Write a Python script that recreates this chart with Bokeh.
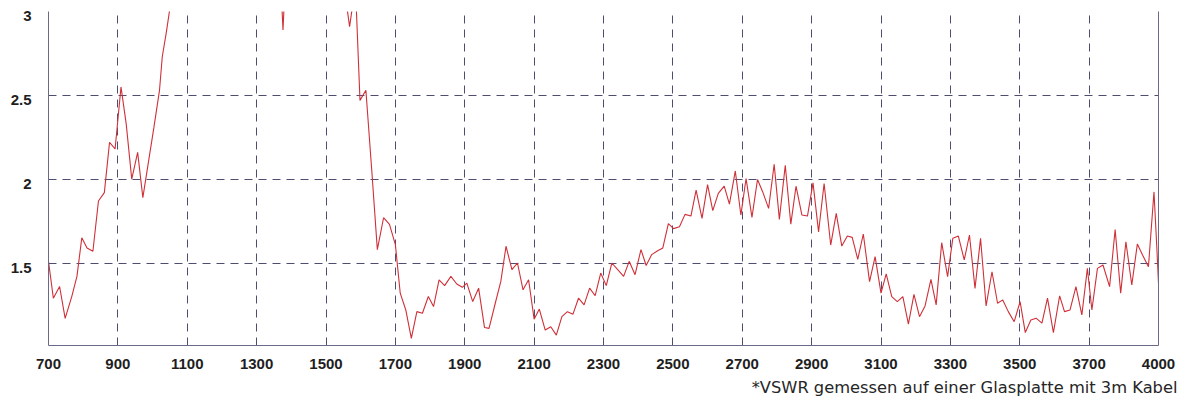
from bokeh.plotting import figure
from bokeh.models import FixedTicker, LinearAxis, Title, Range1d
from bokeh.embed import file_html
from bokeh.resources import INLINE

# ---- data ----
freq = [700, 714, 732, 748, 767, 782, 796, 811, 828, 844, 861, 876, 892, 909, 924,
        940, 957, 972, 988, 1004, 1020, 1028, 1040, 1050, 1066, 1150, 1250, 1344,
        1360, 1376, 1392, 1450, 1530, 1552, 1568, 1577, 1587, 1598, 1615, 1632, 1648,
        1666, 1683, 1700, 1714, 1730, 1746, 1762, 1778, 1795, 1810, 1826, 1842, 1860,
        1877, 1893, 1906, 1923, 1940, 1957, 1970, 1988, 2004, 2019, 2036, 2052, 2068,
        2084, 2100, 2115, 2132, 2148, 2164, 2180, 2196, 2212, 2228, 2244, 2260, 2276,
        2292, 2308, 2324, 2341, 2358, 2374, 2391, 2408, 2423, 2439, 2456, 2471, 2487,
        2502, 2519, 2535, 2552, 2567, 2584, 2600, 2615, 2631, 2648, 2663, 2680, 2696,
        2711, 2728, 2744, 2759, 2776, 2792, 2807, 2824, 2840, 2855, 2872, 2888, 2904,
        2920, 2936, 2955, 2971, 2987, 3003, 3017, 3033, 3049, 3067, 3083, 3100, 3115,
        3131, 3147, 3163, 3179, 3195, 3211, 3227, 3244, 3259, 3275, 3292, 3307, 3323,
        3340, 3355, 3371, 3387, 3403, 3420, 3436, 3451, 3467, 3484, 3501, 3516, 3532,
        3547, 3564, 3580, 3597, 3615, 3629, 3645, 3662, 3679, 3695, 3708, 3724, 3740,
        3759, 3775, 3791, 3806, 3823, 3839, 3854, 3871, 3887, 3895, 3900]

vswr = [1.51, 1.29, 1.36, 1.17, 1.30, 1.42, 1.65, 1.59, 1.57, 1.87, 1.92, 2.22, 2.18, 2.55, 2.33,
        2.00, 2.16, 1.89, 2.10, 2.31, 2.53, 2.73, 2.88, 3.02, 3.30, 3.80, 4.00, 3.90,
        3.60, 2.89, 3.60, 3.90, 3.60, 3.15, 2.91, 3.04, 3.04, 2.47, 2.53, 2.05, 1.58,
        1.77, 1.73, 1.61, 1.32, 1.22, 1.05, 1.21, 1.20, 1.30, 1.24, 1.40, 1.365, 1.42,
        1.375, 1.355, 1.38, 1.27, 1.35, 1.115, 1.11, 1.26, 1.39, 1.60, 1.46, 1.50, 1.34,
        1.40, 1.165, 1.225, 1.10, 1.12, 1.07, 1.18, 1.21, 1.195, 1.29, 1.25, 1.35, 1.305,
        1.44, 1.365, 1.50, 1.46, 1.42, 1.51, 1.43, 1.58, 1.485, 1.55, 1.573, 1.59, 1.735,
        1.705, 1.716, 1.79, 1.78, 1.935, 1.766, 1.968, 1.812, 1.915, 1.958, 1.851, 2.049, 1.786,
        2.004, 1.772, 1.998, 1.924, 1.826, 2.089, 1.76, 2.083, 1.732, 1.958, 1.786, 1.78, 1.978,
        1.686, 1.974, 1.607, 1.796, 1.601, 1.661, 1.653, 1.522, 1.673, 1.389, 1.538, 1.32, 1.435,
        1.30, 1.27, 1.30, 1.135, 1.313, 1.18, 1.244, 1.403, 1.25, 1.621, 1.419, 1.647, 1.661,
        1.518, 1.667, 1.349, 1.647, 1.244, 1.448, 1.26, 1.28, 1.21, 1.15, 1.27, 1.085, 1.16,
        1.171, 1.141, 1.29, 1.085, 1.304, 1.21, 1.22, 1.359, 1.19, 1.468, 1.22, 1.468, 1.488,
        1.359, 1.70, 1.32, 1.627, 1.369, 1.613, 1.548, 1.478, 1.924, 1.60, 1.38]

x_ticks = [700, 900, 1100, 1300, 1500, 1700, 1900, 2100, 2300, 2500, 2700, 2900,
           3100, 3300, 3500, 3700, 3900]
x_tick_labels = ["700", "900", "1100", "1300", "1500", "1700", "1900", "2100", "2300",
                 "2500", "2700", "2900", "3100", "3300", "3500", "3700", "4000"]
y_ticks = [1.5, 2, 2.5, 3]
y_tick_labels = ["1.5", "2", "2.5", "3"]

footnote = "*VSWR gemessen auf einer Glasplatte mit 3m Kabel"

X_MIN, X_MAX = 700, 3900
Y_MIN, Y_MAX = 1.008, 3.0
# the reference prints each y label a little below its grid line
Y_LABEL_DROP = 0.027

# ---- figure ----
p = figure(width=1184, height=403,
           x_range=Range1d(X_MIN, X_MAX), y_range=Range1d(Y_MIN, Y_MAX),
           output_backend="svg", toolbar_location=None,
           min_border_left=48, min_border_right=26, min_border_top=11, min_border_bottom=58)
p.outline_line_color = None
p.background_fill_color = "white"
p.border_fill_color = "white"

p.line(freq, vswr, line_color="#cf3038", line_width=1.1)

grid_color = "#4d4d70"
for g in (p.xgrid, p.ygrid):
    g.grid_line_color = grid_color
    g.grid_line_dash = "8 6"
    g.grid_line_width = 1
p.ygrid.ticker = FixedTicker(ticks=y_ticks)

axis_color = "#6a6a88"
label_font = "Liberation Sans"
label_color = "#1e1e1e"

p.xaxis.ticker = FixedTicker(ticks=x_ticks)
p.xaxis.major_label_overrides = dict(zip(x_ticks, x_tick_labels))

y_label_pos = [round(v - Y_LABEL_DROP, 3) for v in y_ticks]
p.yaxis.ticker = FixedTicker(ticks=y_label_pos)
p.yaxis.major_label_overrides = dict(zip(y_label_pos, y_tick_labels))

for ax in (p.xaxis[0], p.yaxis[0]):
    ax.axis_line_color = axis_color
    ax.axis_line_width = 1
    ax.major_tick_line_color = None
    ax.minor_tick_line_color = None
    ax.major_tick_out = 0
    ax.major_tick_in = 0
    ax.major_label_text_font = label_font
    ax.major_label_text_font_size = "15px"
    ax.major_label_text_font_style = "bold"
    ax.major_label_text_color = label_color

p.xaxis.major_label_standoff = 13
p.yaxis.major_label_standoff = 17

right_axis = LinearAxis(ticker=FixedTicker(ticks=[]), axis_line_color=axis_color,
                        major_tick_line_color=None, minor_tick_line_color=None,
                        major_label_text_font_size="0px", major_label_standoff=0,
                        major_tick_out=0, major_tick_in=0)
p.add_layout(right_axis, "right")

note = Title(text=footnote, align="right", text_font="DejaVu Sans",
             text_font_size="16.3px", text_font_style="normal", text_color="#262626",
             standoff=8, offset=-19)
p.add_layout(note, "below")

open("out.html", "w").write(file_html(p, INLINE))
